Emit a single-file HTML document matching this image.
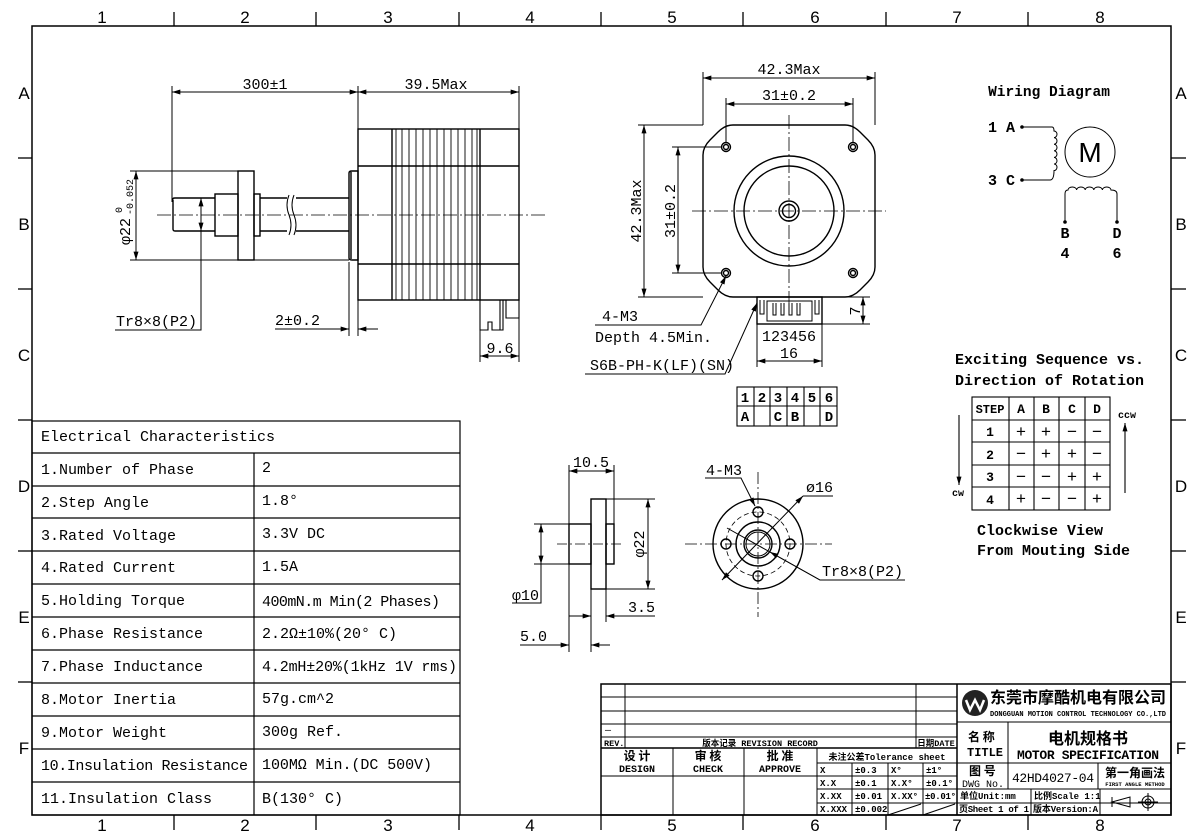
<!DOCTYPE html>
<html><head><meta charset="utf-8"><style>
html,body{margin:0;padding:0;background:#fff;}
svg{display:block;}
text{font-family:"Liberation Mono","Noto Sans CJK SC",monospace;fill:#000;}
.s{font-family:"Liberation Sans",sans-serif;}
.b{font-weight:bold;}
</style></head><body>
<svg width="1200" height="840" viewBox="0 0 1200 840" xmlns="http://www.w3.org/2000/svg">
<defs>
<marker id="a" viewBox="0 0 10 6" refX="10" refY="3" markerWidth="9" markerHeight="5" orient="auto-start-reverse" markerUnits="userSpaceOnUse"><path d="M0,0 L10,3 L0,6 z" fill="#000"/></marker>
</defs>
<g fill="none" stroke="#000" stroke-width="1.5">
<rect x="32" y="26" width="1139" height="789"/>
</g>
<g stroke="#000" stroke-width="1.3">
<line x1="174" y1="12" x2="174" y2="26"/><line x1="316" y1="12" x2="316" y2="26"/><line x1="459" y1="12" x2="459" y2="26"/><line x1="601" y1="12" x2="601" y2="26"/><line x1="743" y1="12" x2="743" y2="26"/><line x1="886" y1="12" x2="886" y2="26"/><line x1="1028" y1="12" x2="1028" y2="26"/>
<line x1="174" y1="815" x2="174" y2="830"/><line x1="316" y1="815" x2="316" y2="830"/><line x1="459" y1="815" x2="459" y2="830"/><line x1="601" y1="815" x2="601" y2="830"/><line x1="743" y1="815" x2="743" y2="830"/><line x1="886" y1="815" x2="886" y2="830"/><line x1="1028" y1="815" x2="1028" y2="830"/>
<line x1="18" y1="158" x2="32" y2="158"/><line x1="18" y1="289" x2="32" y2="289"/><line x1="18" y1="420" x2="32" y2="420"/><line x1="18" y1="551" x2="32" y2="551"/><line x1="18" y1="682" x2="32" y2="682"/>
<line x1="1171" y1="158" x2="1186" y2="158"/><line x1="1171" y1="289" x2="1186" y2="289"/><line x1="1171" y1="420" x2="1186" y2="420"/><line x1="1171" y1="551" x2="1186" y2="551"/><line x1="1171" y1="682" x2="1186" y2="682"/>
</g>
<g class="s" font-size="17" text-anchor="middle">
<text class="s" x="102" y="23">1</text><text class="s" x="245" y="23">2</text><text class="s" x="388" y="23">3</text><text class="s" x="530" y="23">4</text><text class="s" x="672" y="23">5</text><text class="s" x="815" y="23">6</text><text class="s" x="957" y="23">7</text><text class="s" x="1100" y="23">8</text>
<text class="s" x="102" y="831">1</text><text class="s" x="245" y="831">2</text><text class="s" x="388" y="831">3</text><text class="s" x="530" y="831">4</text><text class="s" x="672" y="831">5</text><text class="s" x="815" y="831">6</text><text class="s" x="957" y="831">7</text><text class="s" x="1100" y="831">8</text>
<text class="s" x="24" y="99">A</text><text class="s" x="24" y="230">B</text><text class="s" x="24" y="361">C</text><text class="s" x="24" y="492">D</text><text class="s" x="24" y="623">E</text><text class="s" x="24" y="754">F</text>
<text class="s" x="1181" y="99">A</text><text class="s" x="1181" y="230">B</text><text class="s" x="1181" y="361">C</text><text class="s" x="1181" y="492">D</text><text class="s" x="1181" y="623">E</text><text class="s" x="1181" y="754">F</text>
</g>

<!-- SIDE VIEW -->
<g fill="none" stroke="#000" stroke-width="1.4">
<rect x="358" y="129" width="161" height="171"/>
<line x1="358" y1="166" x2="519" y2="166"/><line x1="358" y1="264" x2="519" y2="264"/>
<line x1="392" y1="129" x2="392" y2="300"/><line x1="480" y1="129" x2="480" y2="300"/>
<g stroke-width="0.9">
<line x1="396" y1="129" x2="396" y2="300"/><line x1="402" y1="129" x2="402" y2="300"/><line x1="409" y1="129" x2="409" y2="300"/><line x1="416" y1="129" x2="416" y2="300"/><line x1="423" y1="129" x2="423" y2="300"/><line x1="430" y1="129" x2="430" y2="300"/><line x1="437" y1="129" x2="437" y2="300"/><line x1="444" y1="129" x2="444" y2="300"/><line x1="451" y1="129" x2="451" y2="300"/><line x1="458" y1="129" x2="458" y2="300"/><line x1="465" y1="129" x2="465" y2="300"/><line x1="472" y1="129" x2="472" y2="300"/><line x1="477" y1="129" x2="477" y2="300"/>
</g>
<path d="M349,173 Q349,171 352,171 L358,171 L358,260 L352,260 Q349,260 349,258 Z"/>
<line x1="351" y1="172" x2="351" y2="259"/>
<path d="M173,200 Q172,198 175,198 L215,198 M173,200 L173,229 Q173,231 175,231 L215,231"/>
<rect x="215" y="194" width="23" height="42"/>
<rect x="238" y="171" width="16" height="89"/>
<rect x="254" y="194" width="6" height="42"/>
<line x1="260" y1="198" x2="349" y2="198"/><line x1="260" y1="231" x2="349" y2="231"/>
<path d="M480,300 L480,330 L488,330 L488,322 L492,322 L492,330 L503,330 L503,300 M506,300 L506,318 L519,318 L519,300 M500,300 L500,330" stroke-width="1.1"/>
</g>
<rect x="287" y="195" width="9" height="40" fill="#fff"/>
<path d="M289,195 Q285,205 289,215 Q293,225 289,235 M294,195 Q290,205 294,215 Q298,225 294,235" fill="none" stroke="#000" stroke-width="1"/>
<line x1="157" y1="215" x2="545" y2="215" stroke="#000" stroke-width="0.8" stroke-dasharray="14,3,2,3"/>
<g stroke="#000" stroke-width="1" fill="none">
<line x1="172" y1="86" x2="172" y2="202"/><line x1="358" y1="86" x2="358" y2="129"/><line x1="519" y1="86" x2="519" y2="129"/>
<line x1="172" y1="92" x2="358" y2="92" marker-start="url(#a)" marker-end="url(#a)"/>
<line x1="358" y1="92" x2="519" y2="92" marker-start="url(#a)" marker-end="url(#a)"/>
<line x1="130" y1="171" x2="238" y2="171"/><line x1="130" y1="260" x2="349" y2="260"/>
<line x1="136" y1="171" x2="136" y2="260" marker-start="url(#a)" marker-end="url(#a)"/>
<line x1="201" y1="198" x2="201" y2="231" marker-start="url(#a)" marker-end="url(#a)"/>
<polyline points="115,330 201,330 201,231"/>
<line x1="349" y1="262" x2="349" y2="336"/><line x1="358" y1="300" x2="358" y2="336"/>
<line x1="275" y1="329" x2="349" y2="329" marker-end="url(#a)"/><line x1="358" y1="329" x2="378" y2="329" marker-start="url(#a)"/>
<line x1="480" y1="330" x2="480" y2="362"/><line x1="519" y1="300" x2="519" y2="362"/>
<line x1="480" y1="356" x2="519" y2="356" marker-start="url(#a)" marker-end="url(#a)"/>
</g>
<g font-size="15">
<text x="265" y="89" text-anchor="middle">300±1</text>
<text x="436" y="89" text-anchor="middle">39.5Max</text>
<text x="116" y="326">Tr8×8(P2)</text>
<text x="275" y="325">2±0.2</text>
<text x="500" y="353" text-anchor="middle">9.6</text>
<g transform="translate(130,215) rotate(-90)"><text x="-30" y="0" font-size="15">φ22</text><text x="2" y="-8" font-size="10">0</text><text x="0" y="3" font-size="10">-0.052</text></g>
</g>

<!-- FRONT VIEW -->
<g fill="none" stroke="#000" stroke-width="1.4">
<path d="M733,125 L845,125 Q853,125 860,132 L868,140 Q875,147 875,155 L875,267 Q875,275 868,282 L860,290 Q853,297 845,297 L733,297 Q725,297 718,290 L710,282 Q703,275 703,267 L703,155 Q703,147 710,140 L718,132 Q725,125 733,125 Z"/>
<circle cx="789" cy="211" r="55"/><circle cx="789" cy="211" r="45"/>
<circle cx="789" cy="211" r="10"/><circle cx="789" cy="211" r="6.5"/>
<circle cx="726" cy="147" r="4.5"/><circle cx="726" cy="147" r="2.5"/>
<circle cx="853" cy="147" r="4.5"/><circle cx="853" cy="147" r="2.5"/>
<circle cx="726" cy="273" r="4.5"/><circle cx="726" cy="273" r="2.5"/>
<circle cx="853" cy="273" r="4.5"/><circle cx="853" cy="273" r="2.5"/>
<rect x="757" y="297" width="65" height="27"/>
<rect x="767" y="301" width="45" height="20" stroke-width="1"/>
<path d="M760,300 v14 h4 v-14 M815,300 v14 h4 v-14 M773,303 v12 h3 v-12 M781,303 v12 h3 v-12 M789,303 v12 h3 v-12 M797,303 v12 h3 v-12" stroke-width="1"/>
</g>
<g stroke="#000" stroke-width="0.8" stroke-dasharray="14,3,2,3">
<line x1="692" y1="211" x2="886" y2="211"/><line x1="789" y1="115" x2="789" y2="305"/>
</g>
<g stroke="#000" stroke-width="1" fill="none">
<line x1="703" y1="72" x2="703" y2="125"/><line x1="875" y1="72" x2="875" y2="125"/>
<line x1="703" y1="78" x2="875" y2="78" marker-start="url(#a)" marker-end="url(#a)"/>
<line x1="726" y1="98" x2="726" y2="143"/><line x1="853" y1="98" x2="853" y2="143"/>
<line x1="726" y1="104" x2="853" y2="104" marker-start="url(#a)" marker-end="url(#a)"/>
<line x1="638" y1="125" x2="703" y2="125"/><line x1="638" y1="297" x2="703" y2="297"/>
<line x1="644" y1="125" x2="644" y2="297" marker-start="url(#a)" marker-end="url(#a)"/>
<line x1="672" y1="147" x2="722" y2="147"/><line x1="672" y1="273" x2="722" y2="273"/>
<line x1="678" y1="147" x2="678" y2="273" marker-start="url(#a)" marker-end="url(#a)"/>
<line x1="822" y1="297" x2="870" y2="297"/><line x1="822" y1="324" x2="870" y2="324"/>
<line x1="863" y1="297" x2="863" y2="324" marker-start="url(#a)" marker-end="url(#a)"/>
<polyline points="595,325 701,325 726,276" marker-end="url(#a)"/>
<polyline points="585,374 725,374 757,303" marker-end="url(#a)"/>
<line x1="757" y1="324" x2="757" y2="367"/><line x1="822" y1="324" x2="822" y2="367"/>
<line x1="757" y1="361" x2="822" y2="361" marker-start="url(#a)" marker-end="url(#a)"/>
</g>
<g font-size="15">
<text x="789" y="74" text-anchor="middle">42.3Max</text>
<text x="789" y="100" text-anchor="middle">31±0.2</text>
<text transform="translate(641,211) rotate(-90)" text-anchor="middle">42.3Max</text>
<text transform="translate(675,211) rotate(-90)" text-anchor="middle">31±0.2</text>
<text transform="translate(860,311) rotate(-90)" text-anchor="middle">7</text>
<text x="620" y="321" text-anchor="middle">4-M3</text>
<text x="595" y="342">Depth 4.5Min.</text>
<text x="590" y="370">S6B-PH-K(LF)(SN)</text>
<text x="789" y="341" text-anchor="middle">123456</text>
<text x="789" y="358" text-anchor="middle">16</text>
</g>
<g fill="none" stroke="#000" stroke-width="1.1">
<rect x="737" y="387" width="100" height="39"/><line x1="737" y1="406" x2="837" y2="406"/>
<line x1="754" y1="387" x2="754" y2="426"/><line x1="770" y1="387" x2="770" y2="426"/><line x1="787" y1="387" x2="787" y2="426"/><line x1="804" y1="387" x2="804" y2="426"/><line x1="820" y1="387" x2="820" y2="426"/>
</g>
<g font-size="14" class="b" text-anchor="middle">
<text x="745" y="402">1</text><text x="762" y="402">2</text><text x="778" y="402">3</text><text x="795" y="402">4</text><text x="812" y="402">5</text><text x="829" y="402">6</text>
<text x="745" y="421">A</text><text x="778" y="421">C</text><text x="795" y="421">B</text><text x="829" y="421">D</text>
</g>

<!-- WIRING -->
<text x="1049" y="96" font-size="14.5" class="b" text-anchor="middle">Wiring Diagram</text>
<g font-size="15" class="b"><text x="988" y="132">1 A</text><text x="988" y="185">3 C</text>
<text x="1065" y="238" text-anchor="middle">B</text><text x="1065" y="258" text-anchor="middle">4</text>
<text x="1117" y="238" text-anchor="middle">D</text><text x="1117" y="258" text-anchor="middle">6</text></g>
<g fill="none" stroke="#000" stroke-width="1">
<circle cx="1022" cy="127" r="1.3" fill="#000"/><circle cx="1022" cy="180" r="1.3" fill="#000"/>
<path d="M1022,127 L1052,127 Q1054,127 1054,131 a3,3.3 0 0 1 0,6.6 a3,3.3 0 0 1 0,6.6 a3,3.3 0 0 1 0,6.6 a3,3.3 0 0 1 0,6.6 a3,3.3 0 0 1 0,6.6 a3,3.3 0 0 1 0,6.6 Q1054,180 1050,180 L1022,180"/>
<circle cx="1090" cy="152" r="25"/>
<path d="M1065,222 L1065,194 Q1065,190 1068,190 a4.3,3 0 0 1 8.6,0 a4.3,3 0 0 1 8.6,0 a4.3,3 0 0 1 8.6,0 a4.3,3 0 0 1 8.6,0 a4.3,3 0 0 1 8.6,0 Q1117,190 1117,194 L1117,222"/>
<circle cx="1065" cy="222" r="1.3" fill="#000"/><circle cx="1117" cy="222" r="1.3" fill="#000"/>
</g>
<text x="1090" y="162" font-size="28" class="s" text-anchor="middle">M</text>

<!-- SEQUENCE -->
<g font-size="15" class="b"><text x="955" y="364">Exciting Sequence vs.</text><text x="955" y="385">Direction of Rotation</text>
<text x="977" y="535">Clockwise View</text><text x="977" y="555">From Mouting Side</text></g>
<g fill="none" stroke="#000" stroke-width="1.1">
<rect x="972" y="397" width="138" height="113"/>
<line x1="972" y1="420" x2="1110" y2="420"/><line x1="972" y1="442" x2="1110" y2="442"/><line x1="972" y1="465" x2="1110" y2="465"/><line x1="972" y1="487" x2="1110" y2="487"/>
<line x1="1009" y1="397" x2="1009" y2="510"/><line x1="1034" y1="397" x2="1034" y2="510"/><line x1="1059" y1="397" x2="1059" y2="510"/><line x1="1085" y1="397" x2="1085" y2="510"/>
<line x1="959" y1="415" x2="959" y2="485" marker-end="url(#a)"/>
<line x1="1125" y1="493" x2="1125" y2="423" marker-end="url(#a)"/>
</g>
<g font-size="13" class="b" text-anchor="middle">
<text x="990" y="413" font-size="12">STEP</text><text x="1021" y="413">A</text><text x="1046" y="413">B</text><text x="1072" y="413">C</text><text x="1097" y="413">D</text>
<text x="990" y="436">1</text><text x="990" y="459">2</text><text x="990" y="481">3</text><text x="990" y="504">4</text>
<text x="958" y="496" font-size="10">cw</text><text x="1127" y="418" font-size="10">ccw</text>
</g>
<g font-size="17" text-anchor="middle">
<text x="1021" y="437">+</text><text x="1046" y="437">+</text><text x="1072" y="437">−</text><text x="1097" y="437">−</text>
<text x="1021" y="459">−</text><text x="1046" y="459">+</text><text x="1072" y="459">+</text><text x="1097" y="459">−</text>
<text x="1021" y="482">−</text><text x="1046" y="482">−</text><text x="1072" y="482">+</text><text x="1097" y="482">+</text>
<text x="1021" y="504">+</text><text x="1046" y="504">−</text><text x="1072" y="504">−</text><text x="1097" y="504">+</text>
</g>

<!-- NUT SIDE -->
<g fill="none" stroke="#000" stroke-width="1.4">
<rect x="569" y="524" width="22" height="40"/><rect x="591" y="499" width="15" height="90"/><rect x="606" y="524" width="8" height="40"/>
</g>
<line x1="557" y1="544" x2="622" y2="544" stroke="#000" stroke-width="0.8" stroke-dasharray="10,3,2,3"/>
<g stroke="#000" stroke-width="1" fill="none">
<line x1="569" y1="465" x2="569" y2="652"/><line x1="614" y1="465" x2="614" y2="524"/>
<line x1="569" y1="471" x2="614" y2="471" marker-start="url(#a)" marker-end="url(#a)"/>
<line x1="606" y1="499" x2="655" y2="499"/><line x1="606" y1="589" x2="655" y2="589"/>
<line x1="648" y1="499" x2="648" y2="589" marker-start="url(#a)" marker-end="url(#a)"/>
<line x1="534" y1="524" x2="569" y2="524"/><line x1="534" y1="564" x2="569" y2="564"/>
<line x1="541" y1="524" x2="541" y2="564" marker-start="url(#a)" marker-end="url(#a)"/>
<polyline points="541,564 541,603 512,603"/>
<line x1="591" y1="589" x2="591" y2="652"/><line x1="606" y1="589" x2="606" y2="622"/>
<line x1="569" y1="616" x2="591" y2="616" marker-end="url(#a)"/><line x1="606" y1="616" x2="655" y2="616" marker-start="url(#a)"/>
<line x1="520" y1="645" x2="569" y2="645" marker-end="url(#a)"/><line x1="591" y1="645" x2="610" y2="645" marker-start="url(#a)"/>
</g>
<g font-size="15">
<text x="591" y="467" text-anchor="middle">10.5</text>
<text transform="translate(644,544) rotate(-90)" text-anchor="middle">φ22</text>
<text x="512" y="600">φ10</text>
<text x="628" y="612">3.5</text>
<text x="520" y="641">5.0</text>
</g>
<!-- NUT FRONT -->
<g fill="none" stroke="#000" stroke-width="1.4">
<circle cx="758" cy="544" r="45"/>
<circle cx="758" cy="544" r="22"/><circle cx="758" cy="544" r="14"/><circle cx="758" cy="544" r="12" stroke-width="1"/>
<circle cx="758" cy="512" r="5"/><circle cx="758" cy="576" r="5"/><circle cx="726" cy="544" r="5"/><circle cx="790" cy="544" r="5"/>
</g>
<circle cx="758" cy="544" r="32" fill="none" stroke="#000" stroke-width="0.8" stroke-dasharray="5,3"/>
<g stroke="#000" stroke-width="0.8" stroke-dasharray="12,3,2,3">
<line x1="685" y1="544" x2="832" y2="544"/><line x1="758" y1="472" x2="758" y2="617"/>
</g>
<g stroke="#000" stroke-width="1" fill="none">
<polyline points="705,478 741,478 755,506" marker-end="url(#a)"/>
<line x1="722" y1="580" x2="803" y2="496" marker-start="url(#a)" marker-end="url(#a)"/><line x1="803" y1="496" x2="833" y2="496"/>
<polyline points="905,580 820,580 727,528"/>
<line x1="820" y1="580" x2="770" y2="552" marker-end="url(#a)"/>
</g>
<g font-size="15">
<text x="706" y="475">4-M3</text><text x="806" y="492">ø16</text><text x="822" y="576">Tr8×8(P2)</text>
</g>

<!-- ELECTRICAL TABLE -->
<g fill="none" stroke="#000" stroke-width="1.2">
<rect x="32" y="421" width="428" height="394"/>
<line x1="32" y1="453" x2="460" y2="453"/><line x1="32" y1="486" x2="460" y2="486"/><line x1="32" y1="518" x2="460" y2="518"/><line x1="32" y1="551" x2="460" y2="551"/><line x1="32" y1="584" x2="460" y2="584"/><line x1="32" y1="617" x2="460" y2="617"/><line x1="32" y1="650" x2="460" y2="650"/><line x1="32" y1="683" x2="460" y2="683"/><line x1="32" y1="716" x2="460" y2="716"/><line x1="32" y1="749" x2="460" y2="749"/><line x1="32" y1="782" x2="460" y2="782"/>
<line x1="254" y1="453" x2="254" y2="815"/>
</g>
<g font-size="15">
<text x="41" y="441">Electrical Characteristics</text>
<text x="41" y="474">1.Number of Phase</text><text x="262" y="472">2</text>
<text x="41" y="507">2.Step Angle</text><text x="262" y="505">1.8°</text>
<text x="41" y="540">3.Rated Voltage</text><text x="262" y="538">3.3V DC</text>
<text x="41" y="572">4.Rated Current</text><text x="262" y="571">1.5A</text>
<text x="41" y="605">5.Holding Torque</text><text x="262" y="606" textLength="178">400mN.m Min(2 Phases)</text>
<text x="41" y="638">6.Phase Resistance</text><text x="262" y="638">2.2Ω±10%(20° C)</text>
<text x="41" y="671">7.Phase Inductance</text><text x="262" y="671" textLength="195">4.2mH±20%(1kHz 1V rms)</text>
<text x="41" y="704">8.Motor Inertia</text><text x="262" y="703">57g.cm^2</text>
<text x="41" y="737">9.Motor Weight</text><text x="262" y="736">300g Ref.</text>
<text x="41" y="770" textLength="207">10.Insulation Resistance</text><text x="262" y="769" textLength="170">100MΩ Min.(DC 500V)</text>
<text x="41" y="803">11.Insulation Class</text><text x="262" y="803">B(130° C)</text>
</g>

<!-- TITLE BLOCK -->
<g fill="none" stroke="#000" stroke-width="1">
<rect x="601" y="684" width="570" height="131" stroke-width="1.5"/>
<line x1="957" y1="684" x2="957" y2="815" stroke-width="1.5"/>
<line x1="601" y1="697" x2="957" y2="697"/><line x1="601" y1="711" x2="957" y2="711"/><line x1="601" y1="724" x2="957" y2="724"/><line x1="601" y1="737" x2="957" y2="737"/>
<line x1="601" y1="748" x2="957" y2="748" stroke-width="1.5"/>
<line x1="625" y1="684" x2="625" y2="748"/><line x1="916" y1="684" x2="916" y2="748"/>
<line x1="673" y1="748" x2="673" y2="815"/><line x1="744" y1="748" x2="744" y2="815"/><line x1="817" y1="748" x2="817" y2="815"/>
<line x1="601" y1="776" x2="817" y2="776"/>
<line x1="817" y1="763" x2="957" y2="763"/><line x1="817" y1="776" x2="957" y2="776"/><line x1="817" y1="789" x2="1171" y2="789"/><line x1="817" y1="803" x2="1171" y2="803"/>
<line x1="852" y1="763" x2="852" y2="815"/><line x1="888" y1="763" x2="888" y2="815"/><line x1="923" y1="763" x2="923" y2="815"/>
<line x1="888" y1="815" x2="921" y2="804"/><line x1="923" y1="815" x2="955" y2="804"/>
<line x1="957" y1="722" x2="1171" y2="722"/><line x1="957" y1="763" x2="1171" y2="763"/>
<line x1="1008" y1="722" x2="1008" y2="789"/><line x1="1098" y1="763" x2="1098" y2="789"/><line x1="1100" y1="789" x2="1100" y2="815"/><line x1="1031" y1="789" x2="1031" y2="815"/>
<path d="M1112,802 L1130,797 L1130,807 Z M1112,797 v10"/><circle cx="1148" cy="802" r="6"/><circle cx="1148" cy="802" r="3"/><line x1="1138" y1="802" x2="1158" y2="802"/><line x1="1148" y1="793" x2="1148" y2="811"/>
</g>
<g>
<circle cx="975" cy="703" r="13" fill="#222"/><path d="M966,700 L970,710 L975,700 L980,710 L984,700" fill="none" stroke="#fff" stroke-width="2.5"/>
<text x="990" y="703" font-size="16" font-weight="bold" textLength="176" style="font-family:'Noto Sans CJK SC',sans-serif">东莞市摩酷机电有限公司</text>
<text x="990" y="716" font-size="7" font-weight="bold" textLength="176">DONGGUAN MOTION CONTROL TECHNOLOGY CO.,LTD</text>
<text x="968" y="741" font-size="12" style="font-family:'Noto Sans CJK SC',sans-serif" font-weight="bold">名 称</text>
<text x="967" y="756" font-size="12" font-weight="bold">TITLE</text>
<text x="1088" y="744" font-size="16" font-weight="bold" text-anchor="middle" style="font-family:'Noto Sans CJK SC',sans-serif">电机规格书</text>
<text x="1088" y="759" font-size="13" font-weight="bold" text-anchor="middle" textLength="142">MOTOR SPECIFICATION</text>
<text x="969" y="775" font-size="12" style="font-family:'Noto Sans CJK SC',sans-serif" font-weight="bold">图 号</text>
<text x="962" y="787" font-size="10" textLength="42">DWG No.</text>
<text x="1053" y="782" font-size="13" text-anchor="middle" textLength="82">42HD4027-04</text>
<text x="1135" y="777" font-size="12" text-anchor="middle" font-weight="bold" style="font-family:'Noto Sans CJK SC',sans-serif">第一角画法</text>
<text x="1135" y="786" font-size="5.5" text-anchor="middle" font-weight="bold">FIRST ANGLE METHOD</text>
<text x="960" y="799" font-size="9" font-weight="bold">单位Unit:mm</text>
<text x="1034" y="799" font-size="9" font-weight="bold">比例Scale 1:1</text>
<text x="959" y="812" font-size="9" font-weight="bold" textLength="70">页Sheet 1 of 1</text>
<text x="1033" y="812" font-size="9" font-weight="bold" textLength="65">版本Version:A</text>
<text x="605" y="733" font-size="10">—</text>
<text x="604" y="746" font-size="8.5" font-weight="bold">REV.</text>
<text x="760" y="746" font-size="8.5" font-weight="bold" text-anchor="middle">版本记录 REVISION RECORD</text>
<text x="936" y="746" font-size="8.5" font-weight="bold" text-anchor="middle">日期DATE</text>
<text x="637" y="760" font-size="12" font-weight="bold" text-anchor="middle" style="font-family:'Noto Sans CJK SC',sans-serif">设 计</text>
<text x="637" y="772" font-size="10" font-weight="bold" text-anchor="middle">DESIGN</text>
<text x="708" y="760" font-size="12" font-weight="bold" text-anchor="middle" style="font-family:'Noto Sans CJK SC',sans-serif">审 核</text>
<text x="708" y="772" font-size="10" font-weight="bold" text-anchor="middle">CHECK</text>
<text x="780" y="760" font-size="12" font-weight="bold" text-anchor="middle" style="font-family:'Noto Sans CJK SC',sans-serif">批 准</text>
<text x="780" y="772" font-size="10" font-weight="bold" text-anchor="middle">APPROVE</text>
<text x="887" y="760" font-size="9" font-weight="bold" text-anchor="middle">未注公差Tolerance sheet</text>
<g font-size="9" font-weight="bold">
<text x="820" y="773">X</text><text x="855" y="773">±0.3</text><text x="891" y="773">X°</text><text x="926" y="773">±1°</text>
<text x="820" y="786">X.X</text><text x="855" y="786">±0.1</text><text x="891" y="786">X.X°</text><text x="926" y="786">±0.1°</text>
<text x="820" y="799">X.XX</text><text x="855" y="799">±0.01</text><text x="891" y="799">X.XX°</text><text x="925" y="799" textLength="31">±0.01°</text>
<text x="820" y="812">X.XXX</text><text x="855" y="812">±0.002</text>
</g>
</g>
</svg>
</body></html>
